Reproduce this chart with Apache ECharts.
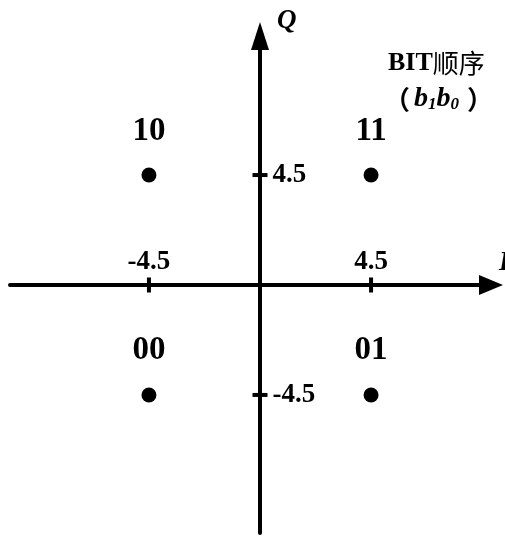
<!DOCTYPE html>
<html>
<head>
<meta charset="utf-8">
<script src="https://cdn.jsdelivr.net/npm/echarts@6/dist/echarts.min.js"></script>
<style>
  html, body { margin: 0; padding: 0; background: #fff; }
  #chart { width: 505px; height: 536px; }
</style>
</head>
<body>
<div id="chart"></div>
<script>
// constellation points (I, Q) and their bit labels
const pointI = [-4.5, 4.5, -4.5, 4.5]
const pointQ = [4.5, 4.5, -4.5, -4.5]
const bitLabels = ['10', '11', '00', '01']

// tick positions and labels on both axes
const tickValues = [-4.5, 4.5]
const tickLabels = ['-4.5', '4.5']

const serif = 'Liberation Serif'

const chart = echarts.init(document.getElementById('chart'))

const tickLabel = (fontSize) => ({
  show: true,
  formatter: (p) => p.data[2],
  color: '#000',
  fontFamily: serif,
  fontWeight: 'bold',
  fontSize: fontSize
})

const options = {
  animation: false,
  grid: {
    left: 10,
    right: 14,
    top: 36,
    bottom: 3
  },
  xAxis: {
    type: 'value',
    min: -10.13,
    max: 9.36,
    splitLine: { show: false },
    axisTick: { show: false },
    axisLabel: { show: false },
    axisLine: {
      onZero: true,
      symbol: ['none', 'triangle'],
      symbolSize: [20, 24],
      lineStyle: { color: '#000', width: 4 }
    }
  },
  yAxis: {
    type: 'value',
    min: -10.15,
    max: 10.19,
    splitLine: { show: false },
    axisTick: { show: false },
    axisLabel: { show: false },
    axisLine: {
      onZero: true,
      symbol: ['none', 'triangle'],
      symbolSize: [18, 28],
      lineStyle: { color: '#000', width: 4 }
    }
  },
  series: [
    {
      name: 'points',
      type: 'scatter',
      symbol: 'circle',
      symbolSize: 15,
      itemStyle: { color: '#000', opacity: 1 },
      data: pointI.map((v, i) => [v, pointQ[i], bitLabels[i]]),
      label: {
        show: true,
        position: 'top',
        distance: 20,
        formatter: (p) => p.data[2],
        color: '#000',
        fontFamily: serif,
        fontWeight: 'bold',
        fontSize: 33
      }
    },
    {
      name: 'xticks',
      type: 'scatter',
      symbol: 'rect',
      symbolSize: [4, 15],
      itemStyle: { color: '#000', opacity: 1 },
      data: tickValues.map((v, i) => [v, 0, tickLabels[i]]),
      label: Object.assign(tickLabel(27), { position: 'top', distance: 2 })
    },
    {
      name: 'yticks',
      type: 'scatter',
      symbol: 'rect',
      symbolSize: [15, 4],
      itemStyle: { color: '#000', opacity: 1 },
      data: tickValues.map((v, i) => [0, v, tickLabels[i]]),
      label: Object.assign(tickLabel(27), { position: 'right', distance: 5 })
    }
  ],
  graphic: [
    {
      type: 'text',
      left: 277,
      top: 8,
      style: {
        text: 'Q',
        fill: '#000',
        font: 'italic bold 27px "Liberation Serif"'
      }
    },
    {
      type: 'text',
      left: 499,
      top: 250,
      style: {
        text: 'I',
        fill: '#000',
        font: 'italic bold 27px "Liberation Serif"'
      }
    },
    {
      type: 'text',
      left: 388,
      top: 50,
      style: {
        text: '{a|BIT}{c|顺序}',
        rich: {
          a: { fontFamily: serif, fontWeight: 'bold', fontSize: 26, fill: '#000' },
          c: { fontFamily: 'Noto Sans CJK SC', fontSize: 26, fill: '#000' }
        }
      }
    },
    {
      type: 'text',
      left: 384,
      top: 85,
      style: {
        text: '{p|（}{b|b}{s|1}{b|b}{s|0}{q|）}',
        rich: {
          p: { fontFamily: 'Noto Sans CJK SC', fontWeight: 'bold', fontSize: 26, fill: '#000', padding: [0, 4, 0, 8] },
          q: { fontFamily: 'Noto Sans CJK SC', fontWeight: 'bold', fontSize: 26, fill: '#000', padding: [0, 0, 0, 8] },
          b: { fontFamily: serif, fontStyle: 'italic', fontWeight: 'bold', fontSize: 28, fill: '#000' },
          s: { fontFamily: serif, fontStyle: 'italic', fontWeight: 'bold', fontSize: 17, fill: '#000', verticalAlign: 'bottom', padding: [10, 0, 0, 0] }
        }
      }
    }
  ]
}

chart.setOption(options)
</script>
</body>
</html>
